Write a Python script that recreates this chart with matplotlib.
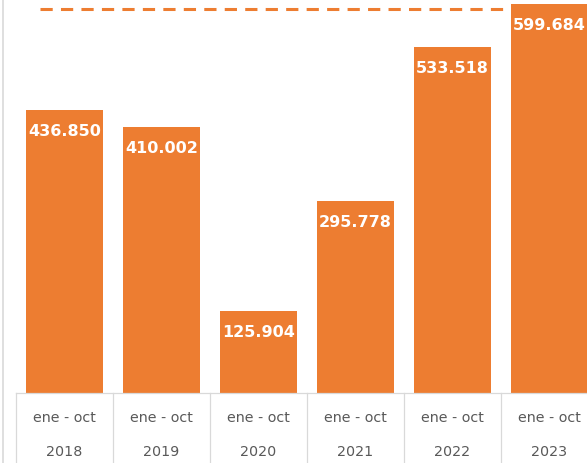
import matplotlib
matplotlib.use("Agg")
import matplotlib.pyplot as plt
from matplotlib.lines import Line2D

periods = ["ene - oct"] * 6
years = ["2018", "2019", "2020", "2021", "2022", "2023"]
values = [436850, 410002, 125904, 295778, 533518, 599684]
dashed_level = 592000

ORANGE = "#ED7D31"
GRID = "#D9D9D9"
TEXT = "#595959"

W, H = 587, 464
fig = plt.figure(figsize=(W / 100, H / 100), dpi=100)

# plot area in pixels: left 16, baseline at 394, 97 px per category
ax = fig.add_axes([16 / W, (H - 394) / H, 97 * 6 / W, 394 / H])
x = list(range(len(values)))

ax.bar(x, values, width=0.79, color=ORANGE, zorder=2)
ax.plot([-0.25, 5.25], [dashed_level, dashed_level], color=ORANGE,
        lw=2.2, dashes=(4, 2.7), zorder=1)

for xi, v in zip(x, values):
    label = f"{v:,}".replace(",", ".")
    ax.annotate(label, (xi, v), xytext=(0, -14.5), textcoords="offset points",
                ha="center", va="center", color="white", fontsize=11.5,
                fontweight="bold", zorder=3)

ax.set_xlim(-0.5, 5.5)
ax.set_ylim(0, 608000)
for s in ["top", "right", "left"]:
    ax.spines[s].set_visible(False)
ax.spines["bottom"].set_color(GRID)
ax.spines["bottom"].set_linewidth(0.9)
ax.set_xticks([])
ax.set_yticks([])

# two-level category labels and separators
trans = ax.get_xaxis_transform()
for xi, p, y in zip(x, periods, years):
    ax.text(xi, -24 / 394, p, transform=trans, ha="center", va="center",
            color=TEXT, fontsize=10.3)
    ax.text(xi, -58 / 394, y, transform=trans, ha="center", va="center",
            color=TEXT, fontsize=10.3)
for b in [i - 0.5 for i in range(len(values) + 1)]:
    ax.plot([b, b], [0, -80 / 394], transform=trans, color=GRID, lw=0.9,
            clip_on=False)

fig.add_artist(Line2D([2.5 / W, 2.5 / W], [0, 1], color=GRID, lw=1.2))

fig.savefig("out.png", dpi=100)
